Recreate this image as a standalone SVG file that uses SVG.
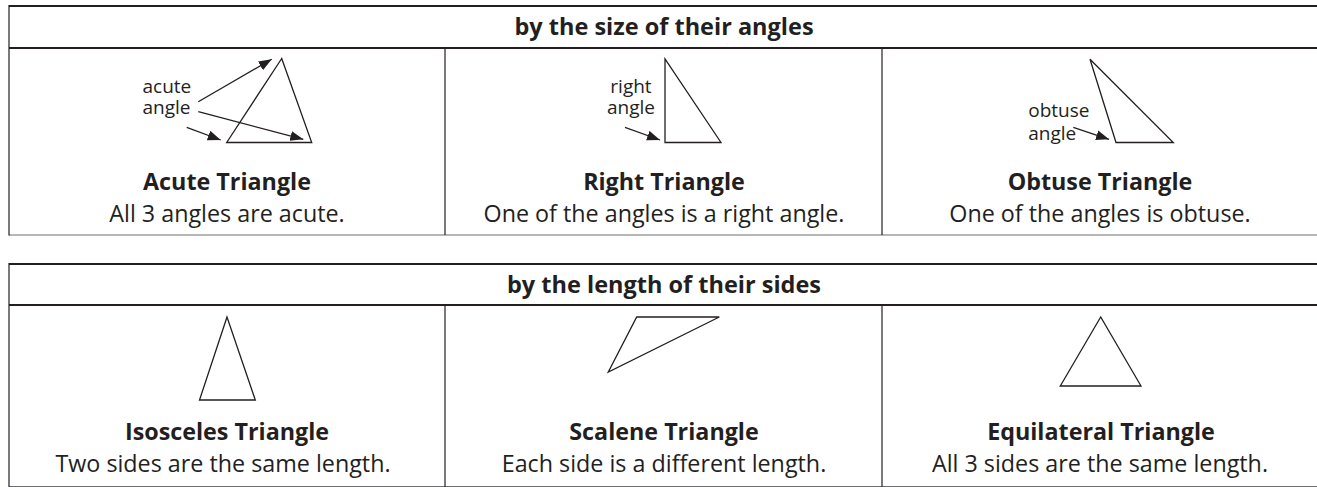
<svg xmlns="http://www.w3.org/2000/svg" width="1317" height="487" viewBox="0 0 1317 487">
<style>
.bg{fill:#ffffff}
.rule{stroke:#231f20;stroke-width:2.2;fill:none}
.thin{stroke:#231f20;stroke-width:1.2;fill:none}
.base{stroke:#6d6e71;stroke-width:1;fill:none}
.tri{stroke:#231f20;stroke-width:1.3;fill:none;stroke-linejoin:miter}
.arr{stroke:#231f20;stroke-width:1.3;fill:none}
.hd{font-family:"Open Sans","Liberation Sans",sans-serif;font-weight:700;font-size:23.5px;fill:#231f20;text-anchor:middle}
.ti{font-family:"Open Sans","Liberation Sans",sans-serif;font-weight:700;font-size:23.3px;fill:#231f20;text-anchor:middle}
.sub{font-family:"Open Sans","Liberation Sans",sans-serif;font-size:23.3px;fill:#231f20;text-anchor:middle}
.lb{font-family:"Open Sans","Liberation Sans",sans-serif;font-size:19px;fill:#231f20}
</style>
<defs>
<marker id="ah" markerUnits="userSpaceOnUse" markerWidth="14" markerHeight="12" refX="13" refY="5" orient="auto">
<path d="M0,0 L13,5 L0,10 z" fill="#231f20"/>
</marker>
</defs>
<rect class="bg" x="0" y="0" width="1317" height="487"/>

<g id="table-angles">
<line class="rule" x1="9" y1="6" x2="1317" y2="6"/>
<line class="rule" x1="9" y1="48" x2="1317" y2="48"/>
<line class="base" x1="9" y1="235" x2="1317" y2="235"/>
<line class="thin" x1="9" y1="5" x2="9" y2="235.5"/>
<line class="thin" x1="445" y1="48" x2="445" y2="235"/>
<line class="thin" x1="882" y1="48" x2="882" y2="235"/>
<text class="hd" x="664" y="35">by the size of their angles</text>
</g>

<g id="acute">
<polygon class="tri" points="281.7,58.5 226.7,142.5 311.7,142.5"/>
<text class="lb" x="142.5" y="92.5">acute</text>
<text class="lb" x="142.5" y="114">angle</text>
<text class="ti" x="227" y="190">Acute Triangle</text>
<text class="sub" x="227" y="222">All 3 angles are acute.</text>
</g>

<g id="right">
<polygon class="tri" points="665,59 665,142.5 721,142.5"/>
<text class="lb" x="631" y="92.5" text-anchor="middle">right</text>
<text class="lb" x="631" y="114" text-anchor="middle">angle</text>
<text class="ti" x="664" y="190">Right Triangle</text>
<text class="sub" x="664" y="222">One of the angles is a right angle.</text>
</g>

<g id="obtuse">
<polygon class="tri" points="1090,59.3 1116,142.5 1173.3,142.5"/>
<text class="lb" x="1028.3" y="116.5">obtuse</text>
<text class="lb" x="1028.3" y="139.5">angle</text>
<text class="ti" x="1100" y="190">Obtuse Triangle</text>
<text class="sub" x="1100" y="222">One of the angles is obtuse.</text>
</g>

<g id="table-sides">
<line class="rule" x1="9" y1="264" x2="1317" y2="264"/>
<line class="rule" x1="9" y1="305" x2="1317" y2="305"/>
<line class="base" x1="9" y1="486.5" x2="1317" y2="486.5"/>
<line class="thin" x1="9" y1="263" x2="9" y2="487"/>
<line class="thin" x1="445" y1="305" x2="445" y2="487"/>
<line class="thin" x1="882" y1="305" x2="882" y2="487"/>
<text class="hd" x="664" y="293">by the length of their sides</text>
</g>

<g id="isosceles">
<polygon class="tri" points="227,317 199.5,400 255.3,400"/>
<text class="ti" x="227" y="440">Isosceles Triangle</text>
<text class="sub" x="223" y="472">Two sides are the same length.</text>
</g>

<g id="scalene">
<polygon class="tri" points="636.7,317 719.3,317 608.3,372"/>
<text class="ti" x="664" y="440">Scalene Triangle</text>
<text class="sub" x="664" y="472">Each side is a different length.</text>
</g>

<g id="equilateral">
<polygon class="tri" points="1100.7,317 1060.3,386 1141,386"/>
<text class="ti" x="1101" y="440">Equilateral Triangle</text>
<text class="sub" x="1100" y="472">All 3 sides are the same length.</text>
</g>

<g id="connectors">
<line class="arr" x1="198.3" y1="101.7" x2="271.7" y2="59.3" marker-end="url(#ah)"/>
<line class="arr" x1="198.3" y1="111.7" x2="303.3" y2="139.3" marker-end="url(#ah)"/>
<line class="arr" x1="186.7" y1="127.3" x2="220.7" y2="140" marker-end="url(#ah)"/>
<line class="arr" x1="625" y1="127.3" x2="660" y2="140" marker-end="url(#ah)"/>
<line class="arr" x1="1073.3" y1="127.3" x2="1109" y2="139.3" marker-end="url(#ah)"/>
</g>
</svg>
